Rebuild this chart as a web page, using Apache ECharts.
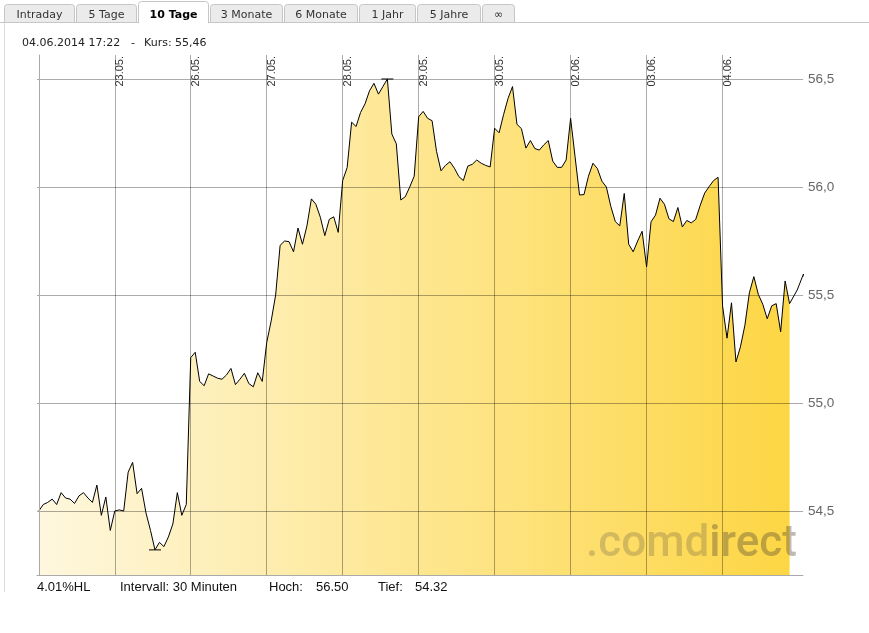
<!DOCTYPE html>
<html><head><meta charset="utf-8">
<script src="https://cdn.jsdelivr.net/npm/echarts@6/dist/echarts.min.js"></script>
<style>html,body{margin:0;padding:0;background:#fff}#c{width:869px;height:633px}</style>
</head><body><div id="c"></div>
<script>
const dayLabels = ['22.05.','23.05.','26.05.','27.05.','28.05.','29.05.','30.05.','02.06.','03.06.','04.06.'];
const d2205 = [54.50,54.53,54.54,54.555,54.53,54.585,54.56,54.555,54.535,54.57,54.585,54.56,54.54,54.62,54.48,54.565,54.41];
const d2305 = [54.50,54.505,54.50,54.68,54.725,54.58,54.605,54.49,54.41,54.32,54.355,54.335,54.38,54.44,54.585,54.48,54.53];
const d2605 = [55.21,55.235,55.10,55.08,55.135,55.125,55.115,55.11,55.13,55.16,55.085,55.11,55.1375,55.09,55.075,55.14,55.10];
const d2705 = [55.28,55.38,55.50,55.73,55.75,55.747,55.70,55.81,55.735,55.82,55.945,55.92,55.86,55.775,55.85,55.862,55.79];
const d2805 = [56.03,56.09,56.30,56.28,56.345,56.385,56.445,56.48,56.43,56.465,56.50,56.245,56.20,55.94,55.955,56.00,56.05];
const d2905 = [56.325,56.35,56.318,56.307,56.165,56.075,56.10,56.117,56.087,56.048,56.03,56.097,56.105,56.125,56.11,56.10,56.093];
const d3005 = [56.272,56.251,56.335,56.41,56.465,56.29,56.27,56.18,56.215,56.178,56.171,56.195,56.215,56.12,56.091,56.091,56.125];
const d0206 = [56.318,56.14,55.963,55.965,56.05,56.11,56.085,56.027,56.0,55.91,55.84,55.82,55.97,55.735,55.70,55.75,55.795];
const d0306 = [55.63,55.839,55.87,55.948,55.92,55.853,55.84,55.905,55.815,55.845,55.834,55.85,55.915,55.972,56.002,56.03,56.045];
const d0406 = [55.45,55.30,55.464,55.19,55.26,55.36,55.51,55.585,55.503,55.457,55.39,55.45,55.46,55.33,55.565,55.46];
const dayValues = [d2205,d2305,d2605,d2705,d2805,d2905,d3005,d0206,d0306,d0406];
const trendLine = [[169.7,55.523],[171.1,55.597],[171.8,55.551],[173.7,55.647],[182.3,54.589]];
const trendHead = [[179.8,54.636],[182.3,54.589],[182.7,54.647]];
const yTicks = [54.5,55.0,55.5,56.0,56.5];
const tabs = ['Intraday','5 Tage','10 Tage','3 Monate','6 Monate','1 Jahr','5 Jahre','\u221e'];
const activeTab = '10 Tage';
const lastDate = '04.06.2014', lastTime = '17:22', intervalText = 'Intervall: 30 Minuten';

const series = [];
const dayStarts = [];
let idx = 0;
dayValues.forEach(arr => { dayStarts.push(idx); arr.forEach(v => { series.push([idx, v]); idx++; }); });
const startToLabel = {};
dayStarts.forEach((s, k) => startToLabel[s] = dayLabels[k]);
const vals = series.map(p => p[1]);
const hi = Math.max(...vals), lo = Math.min(...vals);
const last = series[series.length - 1];
const hlPct = ((hi - lo) / lo * 100).toFixed(2);
const comma = v => v.toFixed(2).replace('.', ',');

const tabEdges = [4, 76, 138, 210, 284, 359, 417, 482, 516];
const gfx = [];
gfx.push({type:'line', shape:{x1:0,y1:22.5,x2:869,y2:22.5}, style:{stroke:'#c6c6c6',lineWidth:1}, z:1});
gfx.push({type:'line', shape:{x1:4.5,y1:22,x2:4.5,y2:592}, style:{stroke:'#dcdcdc',lineWidth:1}, z:1});
tabs.forEach((t, i) => {
  const x0 = tabEdges[i] + 0.5, x1 = tabEdges[i+1] - 1.5;
  const act = t === activeTab;
  gfx.push({type:'rect', z: act ? 3 : 2, shape:{x:x0, y: act ? 1.5 : 4.5, width:x1-x0, height: act ? 21.5 : 18, r:[3,3,0,0]},
    style:{fill: act ? '#ffffff' : '#ebebeb', stroke:'#c6c6c6', lineWidth:1}});
  if (act) gfx.push({type:'rect', z:4, shape:{x:x0+0.5, y:20, width:x1-x0-1, height:4}, style:{fill:'#fff'}});
  gfx.push({type:'text', z:5, style:{x:(x0+x1)/2, y:15, text:t, textAlign:'center', textVerticalAlign:'middle',
    font:(act ? 'bold ' : '') + '11px "DejaVu Sans", Verdana, sans-serif', fill: act ? '#000' : '#333'}});
});
const headFont = '11px "DejaVu Sans", Verdana, sans-serif';
[[22, lastDate + ' ' + lastTime], [131, '-'], [144, 'Kurs: ' + comma(last[1])]]
  .forEach(([x, t]) => gfx.push({type:'text', z:5, style:{x, y:43, text:t, font:headFont, fill:'#222', textVerticalAlign:'middle'}}));
const bottomFont = '13px "Liberation Sans", Arial, sans-serif';
[[37, hlPct + '%HL'], [120, intervalText], [269, 'Hoch:'], [316, hi.toFixed(2)], [378, 'Tief:'], [415, lo.toFixed(2)]]
  .forEach(([x, t]) => gfx.push({type:'text', z:5, style:{x, y:587.5, text:t, font:bottomFont, fill:'#111', textVerticalAlign:'middle'}}));
gfx.push({type:'text', z:50, style:{x:586, y:545, text:'{a|.comd}{b|irect}', textVerticalAlign:'middle',
  rich:{a:{font:'500 44px Roboto, sans-serif', fill:'rgba(95,85,70,0.27)'}, b:{font:'500 44px Roboto, sans-serif', fill:'rgba(75,65,50,0.36)'}}}});

const chart = echarts.init(document.getElementById('c'), null, {renderer:'canvas'});
chart.setOption({
  animation:false,
  grid:{left:37, right:66, top:55, bottom:58, containLabel:false},
  xAxis:[{
    type:'value', position:'top', min:-0.4, max:171, z:5,
    axisLine:{show:false}, axisTick:{show:false, customValues: dayStarts.slice(1)},
    splitLine:{show:true, lineStyle:{color:'rgba(0,0,0,0.33)', width:1}},
    axisLabel:{show:true, inside:true, rotate:-90, margin:1, customValues: dayStarts.slice(1),
      align:'right', verticalAlign:'top', fontSize:11, fontFamily:'"Liberation Sans", Arial, sans-serif', color:'#333',
      formatter: v => startToLabel[Math.round(v)] || ''}
  },{
    type:'value', position:'bottom', min:-0.4, max:171, z:5,
    axisLine:{show:true, lineStyle:{color:'#aaa', width:1}}, axisTick:{show:false}, axisLabel:{show:false}, splitLine:{show:false}
  }],
  yAxis:{
    type:'value', position:'right', min:54.5 - 64/216, max:56.5 + 24/216, z:5,
    axisLine:{show:true, lineStyle:{color:'#aaa', width:1}}, axisTick:{show:false, customValues: yTicks},
    splitLine:{show:true, lineStyle:{color:'rgba(0,0,0,0.33)', width:1}},
    axisLabel:{show:true, customValues: yTicks, margin:5, fontSize:13.5, fontFamily:'"Liberation Sans", Arial, sans-serif', color:'#666',
      padding:[0,0,3,0], formatter: v => v.toFixed(1).replace('.', ',')}
  },
  series:[{
    type:'line', data:series, showSymbol:false, z:2,
    lineStyle:{color:'#000', width:1},
    areaStyle:{origin:'start', opacity:1, color:new echarts.graphic.LinearGradient(0,0,1,0,[{offset:0,color:'rgb(254,247,222)'},{offset:1,color:'rgb(253,214,68)'}])},
    markPoint:{symbol:'rect', symbolSize:[12,1], silent:true, label:{show:false}, itemStyle:{color:'#000'},
      data:[{type:'max', valueDim:'y'}, {type:'min', valueDim:'y'}]}
  },{
    type:'line', data:[last].concat(trendLine), showSymbol:false, clip:false, z:3,
    lineStyle:{color:'#000', width:1}
  },{
    type:'line', data:trendHead, showSymbol:false, clip:false, z:3,
    lineStyle:{color:'#000', width:1}
  }],
  graphic: gfx
});
</script></body></html>
